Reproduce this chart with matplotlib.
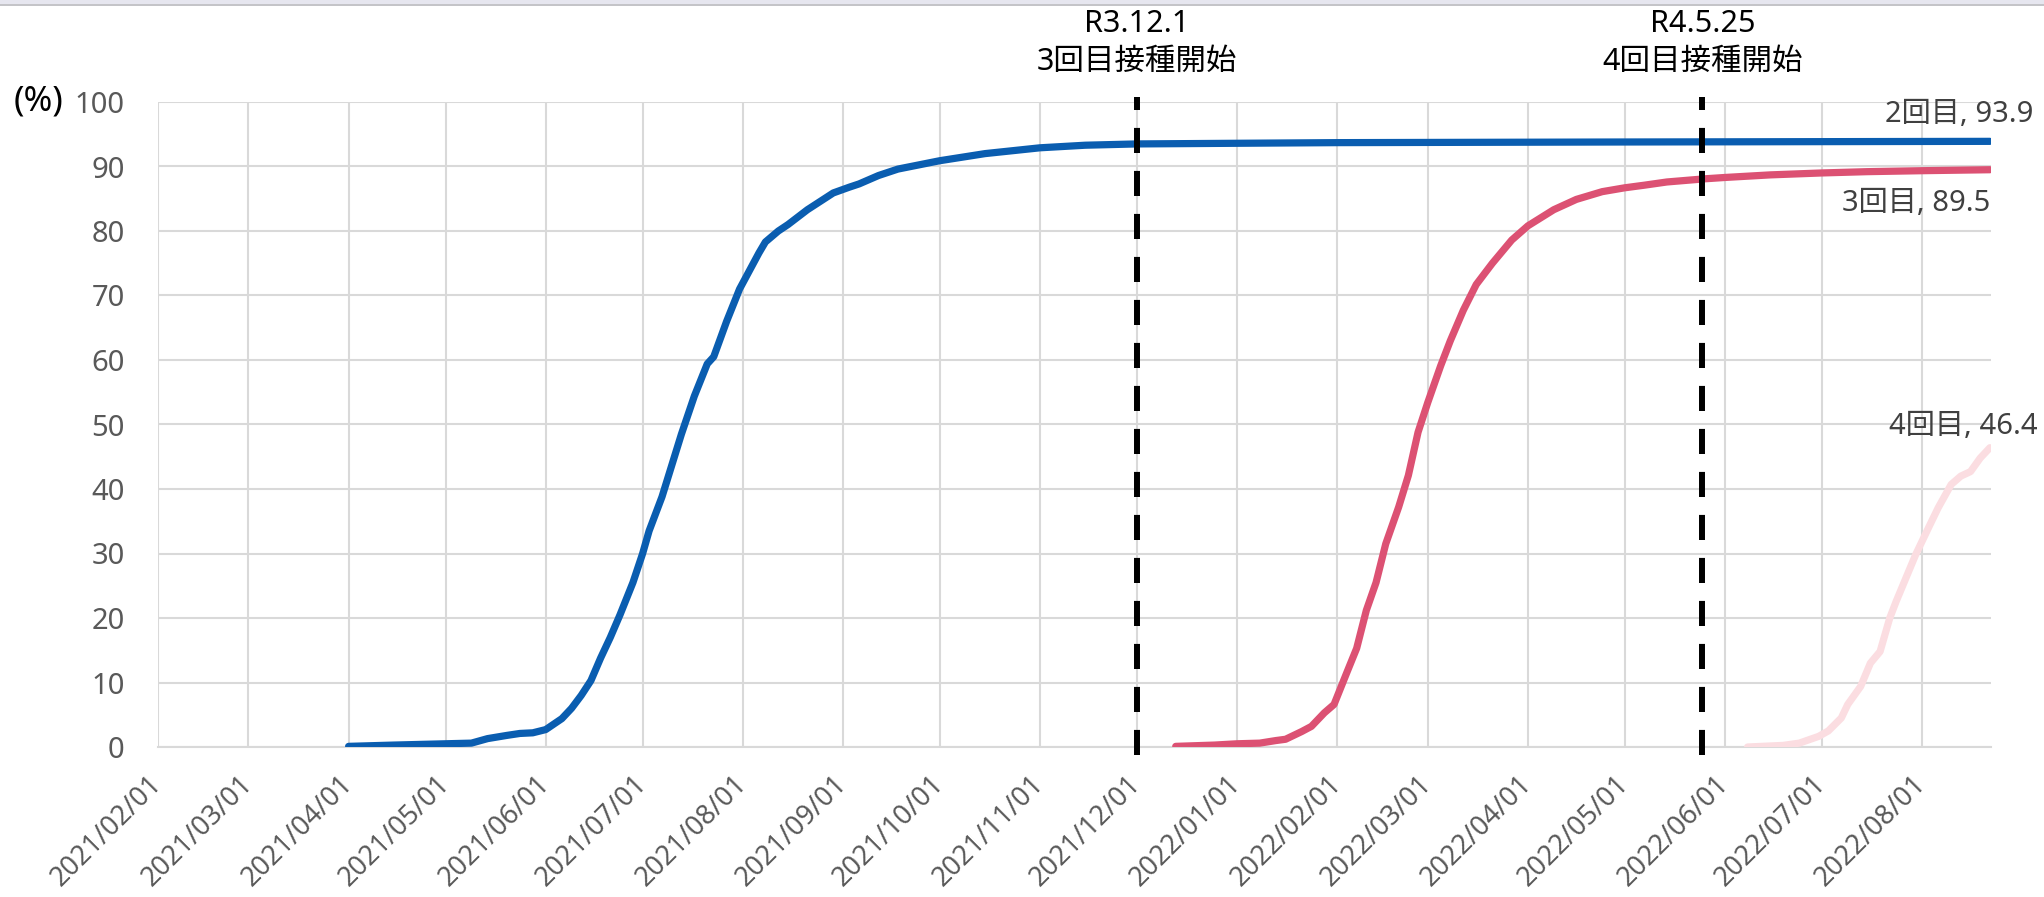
import numpy as np
import matplotlib
matplotlib.use("Agg")
import matplotlib.pyplot as plt
import matplotlib.dates as mdates
from matplotlib.patches import Rectangle

plt.rcParams['font.family'] = ['Noto Sans', 'Noto Sans CJK JP', 'DejaVu Sans']

# 2回目接種率 (%)
dose2_dates = ['2021-04-01', '2021-04-15', '2021-05-01', '2021-05-09', '2021-05-14', '2021-05-20',
               '2021-05-24', '2021-05-28', '2021-06-01', '2021-06-06', '2021-06-09', '2021-06-12',
               '2021-06-15', '2021-06-18', '2021-06-21', '2021-06-24', '2021-06-28', '2021-07-01',
               '2021-07-03', '2021-07-07', '2021-07-13', '2021-07-17', '2021-07-21', '2021-07-23',
               '2021-07-27', '2021-07-31', '2021-08-06', '2021-08-08', '2021-08-12', '2021-08-15',
               '2021-08-21', '2021-08-25', '2021-08-29', '2021-09-03', '2021-09-06', '2021-09-12',
               '2021-09-18', '2021-09-25', '2021-10-01', '2021-10-15', '2021-11-01', '2021-11-15',
               '2021-12-01', '2022-01-01', '2022-02-01', '2022-05-01', '2022-08-22']
dose2_values = [0.1, 0.3, 0.5, 0.6, 1.3, 1.8, 2.1, 2.2, 2.7, 4.4, 6.0, 8.0,
                10.3, 13.8, 17.0, 20.5, 25.5, 30.0, 33.5, 38.8, 48.5, 54.4, 59.4, 60.5,
                66.0, 71.0, 76.6, 78.3, 80.0, 81.0, 83.3, 84.6, 85.9, 86.8, 87.3, 88.6,
                89.6, 90.3, 90.9, 92.0, 92.9, 93.3, 93.5, 93.6, 93.7, 93.8, 93.9]

# 3回目接種率 (%)
dose3_dates = ['2021-12-13', '2021-12-25', '2022-01-01', '2022-01-08', '2022-01-13', '2022-01-16',
               '2022-01-21', '2022-01-24', '2022-01-28', '2022-01-31', '2022-02-04', '2022-02-07',
               '2022-02-10', '2022-02-13', '2022-02-16', '2022-02-20', '2022-02-23', '2022-02-26',
               '2022-03-01', '2022-03-05', '2022-03-08', '2022-03-12', '2022-03-16', '2022-03-21',
               '2022-03-27', '2022-04-01', '2022-04-09', '2022-04-16', '2022-04-24', '2022-05-01',
               '2022-05-07', '2022-05-14', '2022-05-26', '2022-06-01', '2022-06-15', '2022-07-01',
               '2022-07-15', '2022-08-01', '2022-08-22']
dose3_values = [0.1, 0.3, 0.5, 0.6, 1.0, 1.2, 2.4, 3.2, 5.3, 6.6, 11.6, 15.3,
                21.2, 25.5, 31.5, 37.2, 42.1, 48.8, 53.4, 59.1, 63.0, 67.7, 71.7, 75.0,
                78.6, 80.8, 83.3, 84.9, 86.1, 86.7, 87.1, 87.6, 88.1, 88.3, 88.7, 89.0,
                89.2, 89.35, 89.5]

# 4回目接種率 (%)
dose4_dates = ['2022-06-08', '2022-06-19', '2022-06-24', '2022-06-30', '2022-07-03', '2022-07-07',
               '2022-07-09', '2022-07-13', '2022-07-16', '2022-07-19', '2022-07-22', '2022-07-24',
               '2022-07-27', '2022-07-30', '2022-08-03', '2022-08-06', '2022-08-10', '2022-08-13',
               '2022-08-16', '2022-08-19', '2022-08-22']
dose4_values = [0.0, 0.25, 0.6, 1.65, 2.5, 4.5, 6.6, 9.4, 13.0, 14.8, 20.0, 22.6,
                26.2, 29.8, 34.0, 37.1, 40.7, 42.0, 42.7, 44.8, 46.4]

# 接種開始日
start_dates = ['2021-12-01', '2022-05-25']
start_labels = ['R3.12.1', 'R4.5.25']
start_names = ['3回目接種開始', '4回目接種開始']

series = [
    ('2回目', dose2_dates, dose2_values, '#0a5db0', (43, 27)),
    ('3回目', dose3_dates, dose3_values, '#dc5173', (0, -34)),
    ('4回目', dose4_dates, dose4_values, '#fbdde1', (48, 21)),
]

W, H = 2044, 897
fig = plt.figure(figsize=(W / 100, H / 100), dpi=100)
ax = fig.add_axes([158 / W, 1 - 747 / H, (1991 - 158) / W, (747 - 102) / H])

for name, d, v, c, off in series:
    x = np.array(d, dtype='datetime64[D]')
    ax.plot(x, v, color=c, lw=5.2, solid_capstyle='round', solid_joinstyle='round', zorder=3)
    ax.annotate(f'{name}, {v[-1]}', xy=(x[-1], v[-1]), xytext=off, textcoords='offset pixels',
                ha='right', va='center', fontsize=21, color='#404040')

for d, lab, nm in zip(start_dates, start_labels, start_names):
    xd = np.datetime64(d)
    ax.plot([xd, xd], [-1.3, 100.8], color='black', lw=4.3, linestyle=(0, (4.2, 3.0)),
            clip_on=False, zorder=4)
    ax.annotate(lab, xy=(xd, 100), xytext=(0, 78), textcoords='offset pixels',
                ha='center', va='center', fontsize=22, color='black', annotation_clip=False)
    ax.annotate(nm, xy=(xd, 100), xytext=(0, 40), textcoords='offset pixels',
                ha='center', va='center', fontsize=22, color='black', annotation_clip=False)

ax.set_xlim(np.datetime64('2021-02-01T00'), np.datetime64('2022-08-22T08'))
ax.set_ylim(0, 100)
ax.set_yticks(np.arange(0, 101, 10))
ax.xaxis.set_major_locator(mdates.MonthLocator())
ax.xaxis.set_major_formatter(mdates.DateFormatter('%Y/%m/%d'))

ax.grid(True, color='#d9d9d9', lw=1.5)
ax.set_axisbelow(True)
for s in ['top', 'right', 'left']:
    ax.spines[s].set_visible(False)
ax.spines['bottom'].set_color('#d9d9d9')
ax.spines['bottom'].set_linewidth(1.5)
ax.tick_params(axis='both', length=0, labelsize=21, labelcolor='#595959')
ax.tick_params(axis='x', labelsize=19.5, pad=24)
ax.tick_params(axis='y', pad=24)
for t in ax.get_xticklabels():
    t.set_rotation(45)
    t.set_ha('right')
    t.set_va('center')
    t.set_rotation_mode('anchor')

fig.text(14 / W, 1 - 102 / H, '(%)', ha='left', va='center', fontsize=25, color='black')

# window strip along the top edge
fig.add_artist(Rectangle((0, 1 - 4 / H), 1, 4 / H, transform=fig.transFigure,
                         color='#e6e6ef', lw=0))
fig.add_artist(Rectangle((0, 1 - 6 / H), 1, 2 / H, transform=fig.transFigure,
                         color='#c4c4c8', lw=0))

fig.savefig('out.png', dpi=100)
